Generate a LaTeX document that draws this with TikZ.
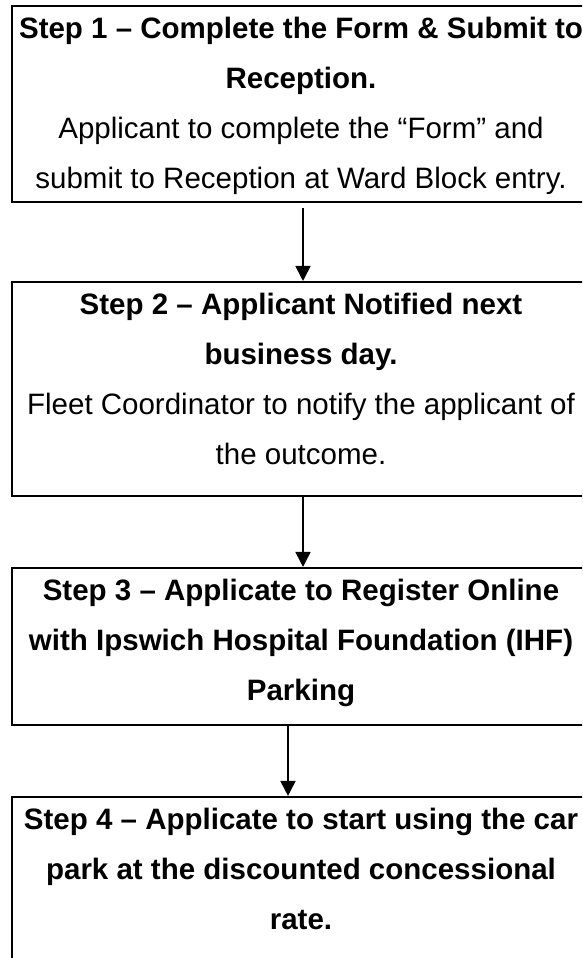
\documentclass[tikz,border=0pt]{standalone}
\usepackage{fontspec}
\setmainfont{Liberation Sans}
\usepackage{tikz}
\usetikzlibrary{%
  arrows.meta,% Triangle tips
  positioning% wg. " of "
}

\begin{document}
\begin{tikzpicture}
    [   >={Triangle[width=15pt,length=15pt]}
    ,   line width=1.8pt
    ,   stepbox/.style=
            {   % The shape:
                rectangle
            ,   draw=black
            ,   line width=1.6pt
            ,   minimum width=578pt
            ,   inner xsep=0pt
            ,   inner ysep=11pt
            ,   % The text
                align=center
            ,   font=\fontsize{29.5}{50}\selectfont
            }
    ,   allbold/.style={font=\fontsize{29.5}{50}\selectfont\bfseries}
    ]
    \path[use as bounding box,clip] (0,0) rectangle (582pt,-958pt);

    \node[stepbox,text depth=3pt,anchor=north](S1) at (301pt,-5pt)
        {\textbf{Step 1 – Complete the Form \& Submit to}\\
         \textbf{Reception.}\\
         Applicant to complete the “Form” and\\
         submit to Reception at Ward Block entry.};
    \node[stepbox,text depth=21pt,below=78pt of S1](S2)
        {\textbf{Step 2 – Applicant Notified next}\\
         \textbf{business day.}\\
         Fleet Coordinator to notify the applicant of\\
         the outcome.};
    \node[stepbox,allbold,text depth=14pt,below=70pt of S2](S3)
        {Step 3 – Applicate to Register Online\\
         with Ipswich Hospital Foundation (IHF)\\
         Parking};
    \node[stepbox,allbold,text depth=40pt,below=70pt of S3](S4)
        {Step 4 – Applicate to start using the car\\
         park at the discounted concessional\\
         rate.};

    \draw[->,shorten <=5pt]([xshift=2pt]S1.south)--([xshift=2pt]S2.north);
    \draw[->]([xshift=2pt]S2.south)--([xshift=2pt]S3.north);
    \draw[->]([xshift=-13pt]S3.south)--([xshift=-13pt]S4.north);
\end{tikzpicture}
\end{document}
